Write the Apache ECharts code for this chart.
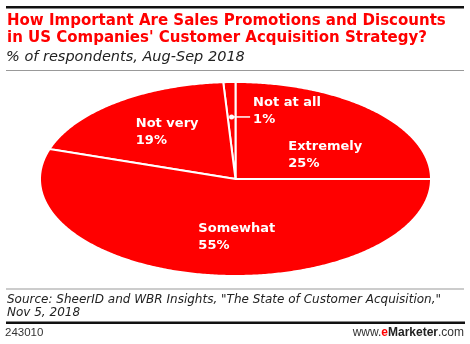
<!DOCTYPE html>
<html><head><meta charset="utf-8">
<script src="https://cdn.jsdelivr.net/npm/echarts@6/dist/echarts.min.js"></script>
<style>html,body{margin:0;padding:0;background:#fff}#c{width:470px;height:344px}</style>
</head><body><div id="c"></div>
<script>
var categories = ['Extremely', 'Not at all', 'Not very', 'Somewhat'];
var values = [25, 1, 19, 55];
var labelAnchors = [[0.27, 0.42], [0.09, 0.87], [-0.51, 0.66], [-0.19, -0.42]];
var RED = '#ff0000';
var total = values.reduce(function(a,b){return a+b;},0);
var cum = [0];
for (var i=0;i<values.length;i++) cum.push(cum[i]+values[i]);

var chart = echarts.init(document.getElementById('c'));
function renderItem(params, api){
  var idx = params.dataIndex;
  var a0 = cum[idx]/total*2*Math.PI, a1 = cum[idx+1]/total*2*Math.PI;
  var pts = [api.coord([0,0])];
  var n = Math.max(4, Math.ceil((a1-a0)/0.01));
  for (var k=0;k<=n;k++){
    var a = a0+(a1-a0)*k/n;
    pts.push(api.coord([Math.cos(a), Math.sin(a)]));
  }
  var children = [{
    type:'polygon', shape:{points:pts},
    style:{fill:RED, stroke:'#fff', lineWidth:2, lineJoin:'miter'}
  }];
  var lp = api.coord(labelAnchors[idx]);
  children.push({type:'text', x:lp[0], y:lp[1], z2:10,
    style:{text: categories[idx]+'\n'+values[idx]+'%', fill:'#fff', font:'bold 13px "DejaVu Sans"', lineHeight:17, align:'left', verticalAlign:'top'}});
  if (values[idx] < 3){
    var am = (a0+a1)/2;
    var dp = api.coord([0.64*Math.cos(am), 0.64*Math.sin(am)]);
    children.push({type:'line', z2:10, shape:{x1:dp[0], y1:dp[1], x2:lp[0]-3, y2:dp[1]}, style:{stroke:'#fff', lineWidth:1.5}});
    children.push({type:'circle', z2:11, shape:{cx:dp[0], cy:dp[1], r:2.5}, style:{fill:'#fff'}});
  }
  return {type:'group', children:children};
}

chart.setOption({
  animation:false,
  grid:{left:40, right:39, top:82, bottom:68},
  xAxis:{type:'value', min:-1, max:1, show:false},
  yAxis:{type:'value', min:-1, max:1, show:false},
  title:[
    {text:"How Important Are Sales Promotions and Discounts\nin US Companies' Customer Acquisition Strategy?", left:7, top:12, padding:0,
     textStyle:{color:RED, fontFamily:'DejaVu Sans', fontWeight:'bold', fontSize:15, lineHeight:17.5}},
    {text:'% of respondents, Aug-Sep 2018', left:6, top:50, padding:0,
     textStyle:{color:'#222', fontFamily:'DejaVu Sans', fontStyle:'italic', fontWeight:'normal', fontSize:14.5}},
    {text:'Source: SheerID and WBR Insights, "The State of Customer Acquisition,"\nNov 5, 2018', left:7, top:294, padding:0,
     textStyle:{color:'#222', fontFamily:'DejaVu Sans', fontStyle:'italic', fontWeight:'normal', fontSize:12, lineHeight:12.5}},
    {text:'243010', left:5, top:327, padding:0, textStyle:{color:'#333', fontFamily:'Liberation Sans', fontWeight:'normal', fontSize:11.5}},
    {text:'www.{e|e}{m|Marketer}.com', right:6, top:327, padding:0,
     textStyle:{color:'#333', fontFamily:'Liberation Sans', fontWeight:'normal', fontSize:12,
       rich:{e:{color:RED, fontWeight:'bold', fontFamily:'Liberation Sans', fontSize:12}, m:{color:'#222', fontWeight:'bold', fontFamily:'Liberation Sans', fontSize:12}}}}
  ],
  graphic:[
    {type:'rect', shape:{x:6, y:6, width:458, height:2.6}, style:{fill:'#111'}},
    {type:'rect', shape:{x:6, y:70, width:458, height:1}, style:{fill:'#999'}},
    {type:'rect', shape:{x:6, y:288.5, width:458, height:1}, style:{fill:'#999'}},
    {type:'rect', shape:{x:6, y:321.5, width:459, height:2.6}, style:{fill:'#111'}}
  ],
  series:[{type:'custom', renderItem:renderItem, data: values.map(function(v,i){return [i, v];})}]
});
</script></body></html>
